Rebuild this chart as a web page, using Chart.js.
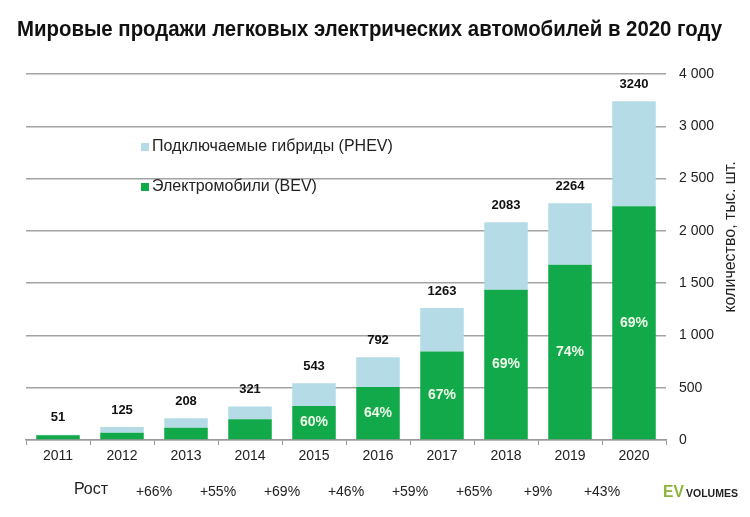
<!DOCTYPE html>
<html lang="ru">
<head>
  <meta charset="UTF-8">
  <title>Мировые продажи электромобилей</title>
  <script src="https://cdn.jsdelivr.net/npm/chart.js"></script>
  <style>
    body { margin: 0; background: #fff; }
    #wrap { width: 750px; height: 517px; }
  </style>
</head>
<body>
  <div id="wrap"><canvas id="evChart"></canvas></div>

  <script>
    const years = ['2011', '2012', '2013', '2014', '2015', '2016', '2017', '2018', '2019', '2020'];
    const bev = [45, 70, 118, 198, 326, 507, 846, 1437, 1675, 2236];
    const phev = [6, 55, 90, 123, 217, 285, 417, 646, 589, 1004];
    const totals = ['51', '125', '208', '321', '543', '792', '1263', '2083', '2264', '3240'];
    const bevShare = ['', '', '', '', '60%', '64%', '67%', '69%', '74%', '69%'];
    const growth = ['+66%', '+55%', '+69%', '+46%', '+59%', '+65%', '+9%', '+43%'];
    const yTickLabels = ['0', '500', '1 000', '1 500', '2 000', '2 500', '3 000', '4 000'];

    const TITLE = 'Мировые продажи легковых электрических автомобилей в 2020 году';
    const FONT = "'Liberation Sans', Arial, sans-serif";
    const GREEN = '#12a94b';
    const BLUE = '#b5dbe6';

    const extras = {
      id: 'extras',
      afterDatasetsDraw(chart) {
        const { ctx, scales: { x } } = chart;
        const bevMeta = chart.getDatasetMeta(0);
        const phevMeta = chart.getDatasetMeta(1);
        ctx.save();

        // title (condensed to the width of the original)
        ctx.textAlign = 'left';
        ctx.textBaseline = 'alphabetic';
        ctx.fillStyle = '#111';
        ctx.font = 'bold 22px ' + FONT;
        ctx.fillText(TITLE, 17, 36, 705);

        ctx.textAlign = 'center';
        ctx.textBaseline = 'middle';

        // totals above bars
        ctx.font = 'bold 13px ' + FONT;
        phevMeta.data.forEach((bar, i) => {
          ctx.fillText(totals[i], bar.x, bar.y - 17);
        });

        // BEV share inside green part
        ctx.fillStyle = '#effbe9';
        ctx.font = 'bold 14px ' + FONT;
        bevMeta.data.forEach((bar, i) => {
          if (bevShare[i]) ctx.fillText(bevShare[i], bar.x, (bar.y + bar.base) / 2);
        });

        // growth row
        ctx.fillStyle = '#222';
        ctx.font = '14px ' + FONT;
        growth.forEach((g, i) => {
          const gx = (x.getPixelForValue(i + 1) + x.getPixelForValue(i + 2)) / 2;
          ctx.fillText(g, gx, 492);
        });
        ctx.font = '16px ' + FONT;
        ctx.fillText('Рост', 91, 490);

        // legend inside the plot
        const items = [chart.data.datasets[1], chart.data.datasets[0]];
        ctx.textAlign = 'left';
        ctx.font = '16px ' + FONT;
        items.forEach((ds, k) => {
          const ly = 147 + k * 40;
          ctx.fillStyle = ds.backgroundColor;
          ctx.fillRect(141, ly - 4, 8, 8);
          ctx.fillStyle = '#222';
          ctx.fillText(ds.label, 152, ly);
        });

        // y axis title
        ctx.save();
        ctx.translate(731, 237);
        ctx.rotate(-Math.PI / 2);
        ctx.textAlign = 'center';
        ctx.font = '16px ' + FONT;
        ctx.fillText('количество, тыс. шт.', 0, 0);
        ctx.restore();

        // source logo
        ctx.textAlign = 'left';
        ctx.textBaseline = 'alphabetic';
        ctx.fillStyle = '#8db43a';
        ctx.font = 'bold 17px ' + FONT;
        ctx.fillText('EV', 663, 497, 21);
        ctx.fillStyle = '#222';
        ctx.font = 'bold 11px ' + FONT;
        ctx.fillText('VOLUMES', 686, 497, 52);
        ctx.restore();
      }
    };

    new Chart(document.getElementById('evChart'), {
      type: 'bar',
      data: {
        labels: years,
        datasets: [
          { label: 'Электромобили (BEV)', data: bev, backgroundColor: GREEN },
          { label: 'Подключаемые гибриды (PHEV)', data: phev, backgroundColor: BLUE }
        ]
      },
      options: {
        responsive: true,
        maintainAspectRatio: false,
        animation: false,
        layout: { padding: { left: 26, right: 0, top: 74, bottom: 0 } },
        datasets: { bar: { barPercentage: 0.68, categoryPercentage: 1 } },
        plugins: {
          legend: { display: false },
          tooltip: { enabled: false }
        },
        scales: {
          x: {
            stacked: true,
            afterFit: s => { s.height = 77; },
            grid: { offset: true, drawOnChartArea: false, drawTicks: true, tickLength: 5, color: '#999' },
            border: { color: '#999', width: 1.5 },
            ticks: { color: '#222', font: { family: FONT, size: 14 }, padding: 3 }
          },
          y: {
            stacked: true,
            position: 'right',
            min: 0,
            max: 3500,
            afterFit: s => { s.width = 84; },
            grid: { color: '#a3a3a3', lineWidth: 1.5, drawTicks: false },
            border: { display: false },
            ticks: {
              stepSize: 500,
              padding: 13,
              color: '#222',
              font: { family: FONT, size: 14 },
              callback: (v, i) => yTickLabels[i]
            }
          }
        }
      },
      plugins: [extras]
    });
  </script>
</body>
</html>
